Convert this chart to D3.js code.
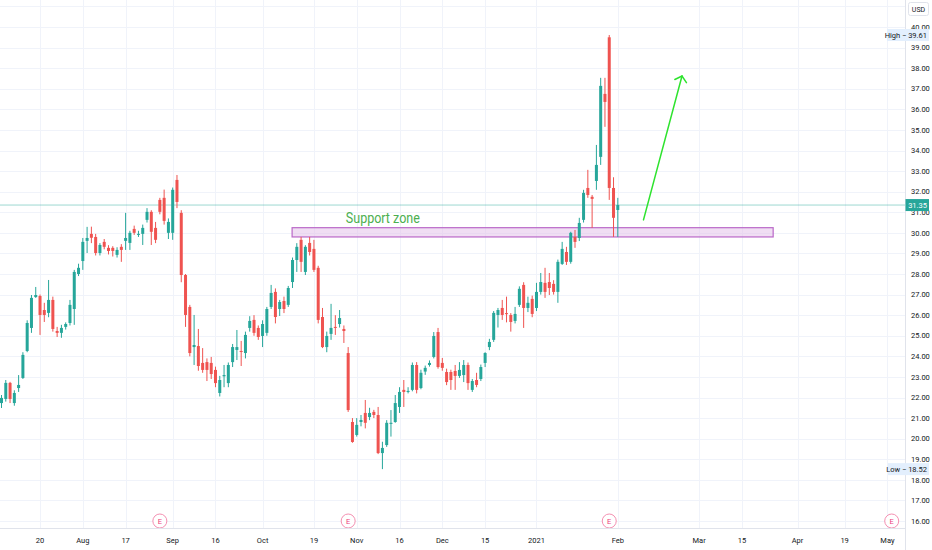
<!DOCTYPE html>
<html>
<head>
<meta charset="utf-8">
<script src="https://cdn.jsdelivr.net/npm/d3@7"></script>
<style>
  body { margin: 0; background: #fff; }
  svg { display: block; font-family: Roboto, "Noto Sans", sans-serif; }
</style>
</head>
<body>
<div id="chart"></div>
<script>
// daily candles [open, high, low, close], Jul 2020 -> Feb 1 2021
const bars = [
  [21.73, 22.12, 21.49, 21.98], [21.93, 22.85, 21.80, 22.71], [22.71, 22.76, 21.73, 21.93], [21.73, 22.35, 21.60, 22.22],
  [22.46, 23.09, 22.27, 22.61], [22.95, 24.20, 22.90, 24.07], [24.26, 25.75, 24.20, 25.62], [25.38, 26.98, 25.14, 26.84],
  [26.88, 27.37, 26.84, 26.98], [26.93, 27.00, 25.04, 26.01], [26.25, 26.60, 25.67, 26.01], [26.11, 27.71, 25.90, 26.74],
  [26.74, 26.90, 25.20, 25.33], [25.23, 25.43, 24.94, 25.14], [25.14, 25.53, 24.90, 25.38], [25.43, 25.65, 25.30, 25.57],
  [25.62, 26.74, 25.50, 26.50], [26.30, 28.20, 25.53, 28.10], [28.00, 28.50, 27.90, 28.30], [28.63, 29.75, 28.20, 29.56],
  [29.61, 30.29, 29.02, 29.75], [29.95, 30.30, 29.50, 29.76], [29.80, 29.95, 28.90, 29.02], [29.02, 29.50, 28.90, 29.41],
  [29.56, 29.70, 29.20, 29.32], [29.27, 29.40, 28.95, 29.12], [29.27, 29.35, 28.85, 29.12], [28.93, 29.30, 28.80, 29.17],
  [29.32, 29.45, 28.59, 29.17], [29.61, 30.97, 29.17, 29.75], [29.51, 30.10, 29.17, 30.00], [30.19, 30.35, 29.90, 30.00],
  [29.90, 30.10, 29.80, 29.95], [29.95, 30.40, 29.41, 30.24], [30.63, 31.20, 30.50, 31.02], [31.02, 31.10, 29.41, 30.05],
  [30.24, 30.53, 29.50, 29.66], [31.60, 31.70, 30.90, 31.02], [31.70, 32.10, 30.40, 30.58], [30.00, 30.70, 29.70, 30.53],
  [30.00, 32.20, 29.66, 32.09], [32.57, 32.81, 31.20, 31.50], [30.97, 31.10, 27.60, 27.95], [27.95, 28.00, 25.43, 26.01],
  [26.40, 26.50, 24.00, 24.16], [24.45, 26.01, 23.58, 24.55], [24.50, 25.33, 23.30, 23.53], [23.68, 24.40, 23.20, 23.34],
  [23.72, 23.90, 22.80, 23.34], [23.68, 23.97, 22.90, 23.14], [23.34, 23.50, 22.50, 22.70], [22.22, 23.05, 22.05, 22.85],
  [23.03, 23.58, 22.50, 23.09], [22.70, 23.70, 22.50, 23.58], [23.72, 24.60, 23.48, 24.45], [24.31, 25.28, 23.82, 24.45],
  [24.26, 24.75, 23.53, 24.21], [24.16, 25.20, 23.90, 25.04], [25.38, 25.95, 25.20, 25.72], [25.77, 26.00, 25.00, 25.14],
  [25.38, 25.50, 24.80, 24.94], [24.99, 25.75, 24.45, 25.57], [25.14, 26.40, 25.00, 26.30], [26.40, 27.47, 26.30, 27.08],
  [27.13, 27.30, 25.60, 25.91], [26.30, 26.74, 25.96, 26.64], [26.69, 26.90, 26.10, 26.30], [26.50, 27.42, 26.40, 27.32],
  [27.61, 28.80, 27.32, 28.68], [28.68, 29.50, 28.10, 29.32], [29.66, 29.80, 28.10, 28.59], [28.10, 29.40, 27.95, 29.32],
  [29.51, 29.80, 28.90, 29.07], [29.22, 29.66, 28.10, 28.20], [28.30, 28.40, 25.60, 25.77], [25.91, 26.35, 24.40, 24.45],
  [24.45, 25.20, 24.20, 24.99], [25.09, 26.55, 24.80, 25.38], [25.43, 26.00, 25.04, 25.38], [25.57, 26.25, 25.40, 25.86],
  [25.33, 25.50, 24.65, 25.23], [24.16, 24.45, 21.30, 21.39], [20.81, 21.00, 19.80, 19.84], [20.18, 21.00, 20.10, 20.67],
  [20.81, 21.15, 20.60, 20.91], [21.25, 21.88, 20.50, 20.77], [21.05, 21.50, 20.90, 21.25], [21.30, 21.40, 21.00, 21.15],
  [21.15, 21.54, 19.25, 19.30], [19.30, 19.85, 18.52, 19.55], [19.69, 20.90, 19.60, 20.77], [20.72, 21.39, 20.10, 20.77],
  [20.81, 22.12, 20.77, 21.73], [21.54, 22.50, 21.25, 22.27], [22.37, 22.85, 21.54, 22.27], [22.27, 22.50, 22.20, 22.32],
  [22.37, 23.70, 22.30, 23.58], [23.58, 23.72, 22.20, 22.37], [22.46, 23.35, 22.40, 23.20], [23.26, 23.55, 23.10, 23.44],
  [23.58, 23.80, 23.50, 23.68], [23.97, 25.18, 23.90, 24.99], [25.18, 25.38, 23.40, 23.48], [23.68, 23.92, 23.30, 23.44],
  [23.24, 23.40, 22.60, 22.75], [23.24, 23.35, 22.37, 22.85], [23.29, 23.58, 22.37, 23.05], [23.05, 23.72, 22.95, 23.34],
  [23.09, 23.82, 22.75, 23.58], [23.58, 23.70, 22.37, 22.70], [22.37, 22.90, 22.27, 22.80], [22.85, 23.20, 22.50, 22.61],
  [22.90, 23.60, 22.80, 23.48], [23.68, 24.20, 23.48, 24.16], [24.45, 24.85, 24.30, 24.70], [24.80, 26.20, 24.70, 26.11],
  [26.01, 26.35, 25.40, 26.25], [26.35, 26.74, 25.77, 26.01], [26.10, 26.90, 25.65, 26.05], [26.01, 26.10, 25.20, 25.67],
  [25.72, 26.40, 25.60, 26.06], [26.50, 27.40, 26.40, 27.28], [27.47, 27.60, 25.38, 26.35], [26.35, 26.90, 26.15, 26.60],
  [26.79, 26.95, 25.90, 26.06], [26.35, 27.57, 26.20, 27.13], [27.13, 28.05, 27.00, 27.61], [27.57, 28.30, 26.84, 27.13],
  [27.61, 28.05, 26.98, 27.32], [27.52, 27.70, 27.00, 27.13], [27.13, 28.70, 26.60, 28.59], [28.49, 29.56, 28.44, 29.22],
  [29.07, 29.32, 28.44, 28.59], [28.59, 30.05, 28.50, 30.00], [29.80, 30.14, 29.27, 29.56], [29.75, 30.73, 29.60, 30.48],
  [30.63, 32.09, 30.50, 31.94], [32.18, 33.06, 31.70, 31.84], [31.75, 31.84, 30.24, 31.65], [32.52, 34.27, 32.09, 33.30],
  [33.69, 37.53, 33.30, 37.14], [36.75, 37.53, 35.15, 36.36], [39.50, 39.61, 31.60, 32.18], [32.18, 32.70, 29.80, 30.73],
  [31.11, 31.70, 29.80, 31.35]
];

// time axis: bar index of each label
const tickIndex  = [9, 19, 29, 40, 50, 61, 73, 83, 93, 103, 113, 125, 144, 163, 173, 186, 197, 207];
const tickLabels = ["20", "Aug", "17", "Sep", "16", "Oct", "19", "Nov", "16", "Dec", "15", "2021", "Feb", "Mar", "15", "Apr", "19", "May"];

// price axis (41 only shows as a grid line, its label sits under the currency box)
const priceTicks = [16, 17, 18, 19, 20, 21, 22, 23, 24, 25, 26, 27, 28, 29, 30, 31, 32, 33, 34, 35, 36, 37, 38, 39, 40];
const gridPrices = [16, 17, 18, 19, 20, 21, 22, 23, 24, 25, 26, 27, 28, 29, 30, 31, 32, 33, 34, 35, 36, 37, 38, 39, 40, 41];
const lastPrice = 31.35;
const highPrice = 39.61;
const lowPrice = 18.52;

// earnings events (bar index)
const earnings = [37, 81, 142, 208];

// drawings
const zoneBars = [67.9, 180.3];
const zonePrices = [29.80, 30.25];
const arrowBars = [150, 159];
const arrowPrices = [30.63, 37.62];

const width = 932, height = 550;
const plotRight = 905, plotBottom = 528;

const up = "#26a69a", down = "#ef5350";

const xScale = d3.scaleLinear().domain([0, 144]).range([1.5, 617.8]);
const yScale = d3.scaleLinear().domain([16, 40]).range([521, 27]);

const svg = d3.select("#chart").append("svg")
    .attr("width", width)
    .attr("height", height);

// grid
const grid = svg.append("g");
grid.selectAll("line.h")
    .data(gridPrices)
    .enter().append("line")
    .attr("x1", 0).attr("x2", plotRight)
    .attr("y1", d => Math.round(yScale(d)) + 0.5)
    .attr("y2", d => Math.round(yScale(d)) + 0.5)
    .attr("stroke", "#f0f3fa");
grid.selectAll("line.v")
    .data(tickIndex)
    .enter().append("line")
    .attr("x1", d => Math.round(xScale(d)) + 0.5)
    .attr("x2", d => Math.round(xScale(d)) + 0.5)
    .attr("y1", 0).attr("y2", plotBottom)
    .attr("stroke", "#f0f3fa");

// last price line
svg.append("line")
    .attr("x1", 0).attr("x2", plotRight)
    .attr("y1", yScale(lastPrice)).attr("y2", yScale(lastPrice))
    .attr("stroke", up)
    .attr("stroke-opacity", 0.45)
    .attr("stroke-width", 1);

// support zone
svg.append("rect")
    .attr("x", xScale(zoneBars[0]))
    .attr("y", yScale(zonePrices[1]))
    .attr("width", xScale(zoneBars[1]) - xScale(zoneBars[0]))
    .attr("height", yScale(zonePrices[0]) - yScale(zonePrices[1]))
    .attr("fill", "#e1bee7")
    .attr("fill-opacity", 0.5)
    .attr("stroke", "#ba68c8")
    .attr("stroke-width", 1.2);

svg.append("text")
    .attr("x", xScale(89.1))
    .attr("y", yScale(30.48))
    .attr("text-anchor", "middle")
    .attr("font-size", "15px")
    .attr("fill", "#4caf50")
    .attr("textLength", 74)
    .attr("lengthAdjust", "spacingAndGlyphs")
    .text("Support zone");

// candles
const candles = svg.append("g")
    .selectAll("g")
    .data(bars)
    .enter().append("g")
    .attr("fill", d => d[3] >= d[0] ? up : down)
    .attr("stroke", d => d[3] >= d[0] ? up : down);

candles.append("line")
    .attr("x1", (d, i) => xScale(i))
    .attr("x2", (d, i) => xScale(i))
    .attr("y1", d => yScale(d[1]))
    .attr("y2", d => yScale(d[2]))
    .attr("stroke-width", 1);

candles.append("rect")
    .attr("x", (d, i) => xScale(i) - 1.5)
    .attr("y", d => yScale(Math.max(d[0], d[3])))
    .attr("width", 3)
    .attr("height", d => Math.max(1, Math.abs(yScale(d[0]) - yScale(d[3]))))
    .attr("stroke", "none");

// arrow
const ax1 = xScale(arrowBars[0]), ay1 = yScale(arrowPrices[0]);
const ax2 = xScale(arrowBars[1]), ay2 = yScale(arrowPrices[1]);
const ang = Math.atan2(ay1 - ay2, ax1 - ax2);
const headLen = 8, headSpread = 0.85;
const arrow = svg.append("g")
    .attr("stroke", "#2ee32e")
    .attr("stroke-width", 1.5)
    .attr("stroke-linecap", "round")
    .attr("fill", "none");
arrow.append("line")
    .attr("x1", ax1).attr("y1", ay1)
    .attr("x2", ax2).attr("y2", ay2);
arrow.append("path")
    .attr("d", `M${ax2 + headLen * Math.cos(ang - headSpread)},${ay2 + headLen * Math.sin(ang - headSpread)}
                L${ax2},${ay2}
                L${ax2 + headLen * Math.cos(ang + headSpread)},${ay2 + headLen * Math.sin(ang + headSpread)}`);

// earnings markers
const eGroup = svg.append("g")
    .selectAll("g")
    .data(earnings)
    .enter().append("g")
    .attr("transform", d => `translate(${xScale(d)},${yScale(16)})`);
eGroup.append("circle")
    .attr("r", 7)
    .attr("fill", "#fff")
    .attr("stroke", "#f48fb1")
    .attr("stroke-width", 1);
eGroup.append("text")
    .attr("y", 2.6)
    .attr("text-anchor", "middle")
    .attr("font-size", "7.5px")
    .attr("fill", "#ec407a")
    .text("E");

// axes area
svg.append("rect")
    .attr("x", plotRight).attr("y", 0)
    .attr("width", width - plotRight).attr("height", height)
    .attr("fill", "#fff");
svg.append("rect")
    .attr("x", 0).attr("y", plotBottom)
    .attr("width", width).attr("height", height - plotBottom)
    .attr("fill", "#fff");
svg.append("line")
    .attr("x1", plotRight + 0.5).attr("x2", plotRight + 0.5)
    .attr("y1", 0).attr("y2", height)
    .attr("stroke", "#e0e3eb");
svg.append("line")
    .attr("x1", 0).attr("x2", plotRight)
    .attr("y1", plotBottom + 0.5).attr("y2", plotBottom + 0.5)
    .attr("stroke", "#e0e3eb");

// price labels
svg.append("g")
    .selectAll("text")
    .data(priceTicks)
    .enter().append("text")
    .attr("x", 911)
    .attr("y", d => yScale(d) + 2.7)
    .attr("font-size", "7.5px")
    .attr("fill", "#131722")
    .text(d => d3.format(".2f")(d));

// time labels
svg.append("g")
    .selectAll("text")
    .data(tickIndex)
    .enter().append("text")
    .attr("x", d => xScale(d))
    .attr("y", 543)
    .attr("text-anchor", "middle")
    .attr("font-size", "7.5px")
    .attr("fill", "#131722")
    .text((d, i) => tickLabels[i]);

// high / low tags
function tag(price, label, fill, color, x0) {
    const y = yScale(price);
    svg.append("rect")
        .attr("x", x0).attr("y", y - 6)
        .attr("width", width - 3 - x0).attr("height", 12)
        .attr("fill", fill);
    svg.append("text")
        .attr("x", width - 5).attr("y", y + 2.7)
        .attr("text-anchor", "end")
        .attr("font-size", "7.5px")
        .attr("fill", color)
        .text(label);
}
tag(highPrice, "High \u2212 " + highPrice.toFixed(2), "#e3effd", "#131722", 887);
tag(lowPrice, "Low \u2212 " + lowPrice.toFixed(2), "#e3effd", "#131722", 888);
tag(lastPrice, lastPrice.toFixed(2), up, "#fff", 905.5);

// currency
svg.append("rect")
    .attr("x", 908.5).attr("y", 2.5)
    .attr("width", 20).attr("height", 13)
    .attr("rx", 2)
    .attr("fill", "#fff")
    .attr("stroke", "#e0e3eb");
svg.append("text")
    .attr("x", 918.5).attr("y", 11.5)
    .attr("text-anchor", "middle")
    .attr("font-size", "7px")
    .attr("fill", "#131722")
    .text("USD");
</script>
</body>
</html>
